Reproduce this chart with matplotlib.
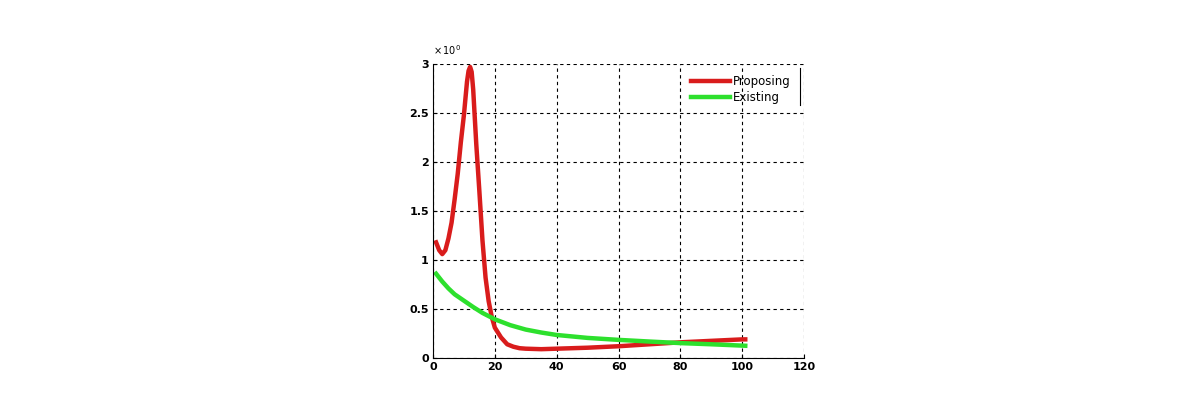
import matplotlib
matplotlib.use("Agg")
import matplotlib.pyplot as plt
from matplotlib.lines import Line2D

# Data
prop_x = [1, 2, 3, 4, 5, 6, 7, 8, 9, 10, 11, 11.5, 12, 12.5, 13, 14, 15, 16, 17, 18, 19, 20,
          22, 24, 26, 28, 30, 35, 40, 50, 60, 70, 80, 90, 100, 101]
prop_y = [1.18, 1.10, 1.06, 1.10, 1.22, 1.38, 1.62, 1.88, 2.20, 2.48, 2.82, 2.93, 2.97, 2.92, 2.74,
          2.18, 1.70, 1.20, 0.82, 0.58, 0.42, 0.31, 0.21, 0.14, 0.115, 0.10, 0.095,
          0.09, 0.095, 0.105, 0.12, 0.14, 0.16, 0.175, 0.19, 0.19]
exist_x = [1, 3, 5, 7, 10, 13, 16, 20, 25, 30, 35, 40, 50, 60, 70, 80, 90, 101]
exist_y = [0.86, 0.78, 0.71, 0.65, 0.585, 0.52, 0.46, 0.395, 0.335, 0.29, 0.26, 0.235,
           0.205, 0.185, 0.168, 0.152, 0.14, 0.125]
xticks = [0, 20, 40, 60, 80, 100, 120]
yticks = [0, 0.5, 1, 1.5, 2, 2.5, 3]
ytick_labels = ["0", "0.5", "1", "1.5", "2", "2.5", "3"]

fig = plt.figure(figsize=(11.9, 4.11), dpi=100)
ax = fig.add_axes([433/1190, 53/411, 371/1190, 294/411])

ax.plot(prop_x, prop_y, color="#d91c1c", lw=3.2, label="Proposing", solid_joinstyle="round")
ax.plot(exist_x, exist_y, color="#2de02d", lw=3.2, label="Existing", solid_joinstyle="round")

ax.set_xlim(0, 120)
ax.set_ylim(0, 3)
ax.set_xticks(xticks)
ax.set_yticks(yticks)
ax.set_yticklabels(ytick_labels)
ax.grid(True, color="black", linestyle=(0, (3, 3)), linewidth=0.8)
ax.spines["top"].set_visible(False)
ax.spines["right"].set_visible(False)
ax.tick_params(direction="in", length=3, labelsize=8, pad=3)
for lab in ax.get_xticklabels() + ax.get_yticklabels():
    lab.set_fontweight("bold")

ax.text(0.0, 1.025, r"$\times\,10^{0}$", transform=ax.transAxes, fontsize=7, ha="left", va="bottom")

leg = ax.legend(loc="upper right", frameon=False, fontsize=8.5, handlelength=3.3,
                handletextpad=0.2, borderaxespad=0.3, labelspacing=0.25,
                bbox_to_anchor=(0.985, 0.99))
ax.add_line(Line2D([0.988, 0.988], [0.86, 0.985], transform=ax.transAxes,
                   color="black", lw=0.8, clip_on=False))

fig.savefig("out.png", dpi=100)
